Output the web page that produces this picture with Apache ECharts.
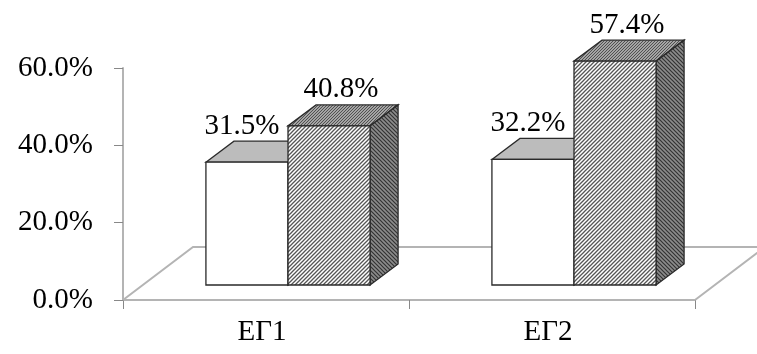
<!DOCTYPE html>
<html>
<head>
	<meta charset="UTF-8">
	<title>ЕГ1 / ЕГ2</title>
	<script src="https://cdn.jsdelivr.net/npm/echarts@6/dist/echarts.min.js"></script>
	<style>
		html, body { margin: 0; padding: 0; background: #fff; }
		#chart1 { width: 757px; height: 354px; }
	</style>
</head>
<body>
	<div id="chart1"></div>
</body>
</html>
<script type="text/javascript">
	// данные
	var categories = ['ЕГ1', 'ЕГ2'];
	var whiteValues = [31.5, 32.2];
	var hatchValues = [40.8, 57.4];
	var yMin = 0, yMax = 60, yStep = 20;

	var FONT = 'Liberation Serif';

	// штриховка через canvas
	function hatch(bg, fg, dir, size, lw) {
		var c = document.createElement('canvas');
		c.width = size; c.height = size;
		var ctx = c.getContext('2d');
		ctx.fillStyle = bg;
		ctx.fillRect(0, 0, size, size);
		ctx.strokeStyle = fg;
		ctx.lineWidth = lw;
		ctx.beginPath();
		if (dir > 0) {
			ctx.moveTo(-1, size + 1); ctx.lineTo(size + 1, -1);
			ctx.moveTo(-1, 1); ctx.lineTo(1, -1);
			ctx.moveTo(size - 1, size + 1); ctx.lineTo(size + 1, size - 1);
		} else {
			ctx.moveTo(-1, -1); ctx.lineTo(size + 1, size + 1);
			ctx.moveTo(size - 1, -1); ctx.lineTo(size + 1, 1);
			ctx.moveTo(-1, size - 1); ctx.lineTo(1, size + 1);
		}
		ctx.stroke();
		return { image: c, repeat: 'repeat' };
	}

	var frontHatch = hatch('#ffffff', '#555555', 1, 4, 1.3);
	var sideHatch = hatch('#8c8c8c', '#333333', -1, 4, 1.2);
	var topHatch = hatch('#a4a4a4', '#505050', 1, 3, 1);

	var DX = 28, DY = 21; // глубина столбика
	var EDGE = '#2a2a2a';

	function poly(points, fill) {
		return {
			type: 'polygon',
			shape: { points: points },
			style: { fill: fill, stroke: EDGE, lineWidth: 1.3 }
		};
	}

	function box(x0, x1, yb, yt, frontFill, topFill, sideFill) {
		return [
			poly([[x0, yt], [x0 + DX, yt - DY], [x1 + DX, yt - DY], [x1, yt]], topFill),
			poly([[x1, yt], [x1 + DX, yt - DY], [x1 + DX, yb - DY], [x1, yb]], sideFill),
			poly([[x0, yt], [x1, yt], [x1, yb], [x0, yb]], frontFill)
		];
	}

	function labelText(x, y, txt) {
		return {
			type: 'text',
			x: x, y: y,
			style: {
				text: txt, fill: '#000', font: '29px "' + FONT + '"',
				align: 'center', verticalAlign: 'middle'
			}
		};
	}

	function renderBars(params, api) {
		var idx = api.value(0);
		var base = api.coord([idx, 0]);
		var bw = api.size([1, 0])[0];
		var barW = bw * 0.287;
		var cx = base[0], yb = base[1];
		var yA = api.coord([idx, api.value(1)])[1];
		var yB = api.coord([idx, api.value(2)])[1];
		var children = [];
		children = children.concat(box(cx - barW, cx, yb, yA, '#ffffff', '#bcbcbc', '#d0d0d0'));
		children = children.concat(box(cx, cx + barW, yb, yB, frontHatch, topHatch, sideHatch));
		children.push(labelText(cx - barW / 2 - 5, yA - DY - 15, api.value(1).toFixed(1) + '%'));
		children.push(labelText(cx + barW / 2 + 12, yB - DY - 15, api.value(2).toFixed(1) + '%'));
		return { type: 'group', children: children };
	}

	function renderFloor(params, api) {
		var p0 = api.coord([0, 0]);
		var p1 = api.coord([categories.length - 1, 0]);
		var bw = api.size([1, 0])[0];
		var l = p0[0] - bw / 2, r = p1[0] + bw / 2, y = p0[1];
		return {
			type: 'polyline',
			shape: { points: [[l, y], [l + 70, y - 53], [r + 70, y - 53], [r, y]] },
			style: { fill: null, stroke: '#b4b4b4', lineWidth: 2 }
		};
	}

	var chart1 = echarts.init(document.getElementById('chart1'));

	var option = {
		animation: false,
		textStyle: { fontFamily: FONT },
		grid: [
			{ left: 123, right: 62, top: 68, bottom: 54 },
			{ left: 145, right: 40, top: 51, bottom: 69 }
		],
		xAxis: [{
			gridIndex: 0,
			type: 'category',
			data: categories,
			axisLine: { lineStyle: { color: '#b4b4b4', width: 2 } },
			axisTick: { show: true, length: 9, lineStyle: { color: '#888', width: 1 } },
			axisLabel: { color: '#000', fontSize: 29, fontFamily: FONT, margin: 18, padding: [0, 8, 0, 0] }
		}, {
			gridIndex: 1,
			type: 'category',
			data: categories,
			show: false
		}],
		yAxis: [{
			gridIndex: 0,
			type: 'value',
			min: yMin, max: yMax, interval: yStep,
			axisLine: { show: true, lineStyle: { color: '#b4b4b4', width: 2 } },
			axisTick: { show: true, length: 9, lineStyle: { color: '#888', width: 1 } },
			splitLine: { show: false },
			axisLabel: {
				color: '#000', fontSize: 29, fontFamily: FONT, margin: 30,
				formatter: function (v) { return v.toFixed(1) + '%'; }
			}
		}, {
			gridIndex: 1,
			type: 'value',
			min: yMin, max: yMax,
			show: false
		}],
		series: [{
			type: 'custom',
			xAxisIndex: 0, yAxisIndex: 0,
			clip: false,
			z: 1,
			renderItem: renderFloor,
			data: [[0, 0]]
		}, {
			type: 'custom',
			xAxisIndex: 1, yAxisIndex: 1,
			clip: false,
			z: 3,
			renderItem: renderBars,
			data: categories.map(function (c, i) { return [i, whiteValues[i], hatchValues[i]]; })
		}]
	};

	chart1.setOption(option);
</script>
